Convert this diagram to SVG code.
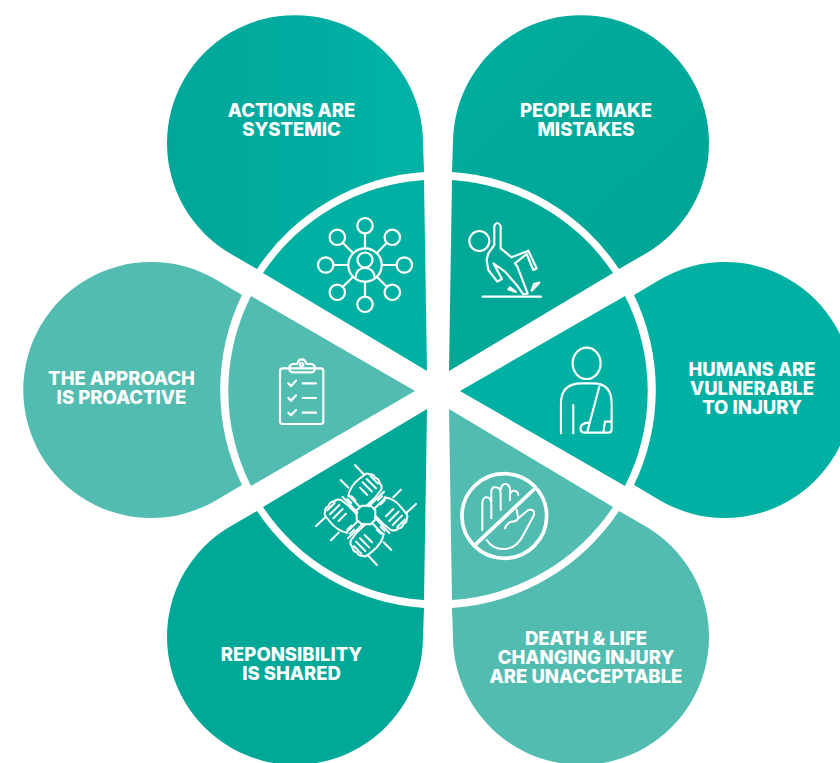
<svg xmlns="http://www.w3.org/2000/svg" xmlns:xlink="http://www.w3.org/1999/xlink" width="840" height="763" viewBox="0 0 840 763">
<style>
text{font-family:Inter,"Liberation Sans",sans-serif;font-weight:800;font-size:18.500px;fill:#fff;text-anchor:middle}
.i{fill:none;stroke:#fff;stroke-linecap:round;stroke-linejoin:round}
.a{fill:#00b0a3}.b{fill:#00a898}.c{fill:#52bcb1}
</style>
<defs>
<linearGradient id="tl" x1="0" y1="0" x2="1" y2="0"><stop offset="0" stop-color="#00a699"/><stop offset="1" stop-color="#00b3a6"/></linearGradient>
<linearGradient id="tr" x1="0" y1="0" x2="1" y2="1"><stop offset="0" stop-color="#00ad9f"/><stop offset="1" stop-color="#00a595"/></linearGradient>
<g id="hand">
<path d="M115 124Q118 95 150 70L160 62Q170 52 178 58Q190 56 195 68Q207 70 209 84Q218 94 213 105L195 128L172 150M98 126L142 172M115 120L150 156"/>
<path d="M158 82L186 110M170 72L198 100M182 64L204 86M150 98L172 120M135 30L163 60M92 75L115 98M112 132L124 144M124 124L136 136"/>
</g>
</defs>
<rect width="840" height="763" fill="#fff"/>
<g id="connectors"/>
<g id="node-actions">
<path fill="url(#tl)" d="M424 172L423 143A128 128 0 1 0 231 254L257 269A218 218 0 0 1 424 172Z"/>
<path class="a" d="M427 371L263 273A210 210 0 0 1 424 180Z"/>
<g class="i" stroke-width="2.200">
<circle cx="365" cy="265" r="16.700"/><circle cx="365" cy="260" r="7.500"/><path d="M355.500 278C356 271 360 268 365 268S374 271 375 278"/>
<circle cx="365" cy="225.700" r="7.700"/><circle cx="337.300" cy="237.300" r="7.700"/><circle cx="392.300" cy="237.300" r="7.700"/><circle cx="325.700" cy="265" r="7.700"/><circle cx="404.300" cy="265" r="7.700"/><circle cx="337.300" cy="292.300" r="7.700"/><circle cx="392.300" cy="292.300" r="7.700"/><circle cx="365" cy="304.300" r="7.700"/>
<path d="M365 233.500V248M342.800 242.800L353 253M386.800 242.800L377 253M333.500 265H348M396.500 265H382M342.800 286.800L353 277M386.800 286.800L377 277M365 296.500V282"/>
</g>
<text y="116.500"><tspan x="291.500">ACTIONS ARE</tspan><tspan x="291.500" dy="19">SYSTEMIC</tspan></text>
</g>
<g id="node-mistakes">
<path fill="url(#tr)" d="M452 172L453 143A128 128 0 1 1 645 254L619 269A218 218 0 0 0 452 172Z"/>
<path class="b" d="M449 371L613 273A210 210 0 0 0 452 180Z"/>
<g class="i" transform="translate(260 170) scale(.3333)" stroke-width="6.500">
<circle cx="658" cy="213" r="30"/>
<path d="M703 168V225L685 250L680 270L685 300L712 335L726 327L700 280L735 305L770 345L790 373L803 370L772 290L765 280L800 252L820 300L830 295L805 242L755 262L722 235V168Q712 150 703 168Z"/>
<path d="M668 380H843M745 358L768 366L750 352ZM815 362L838 338L822 342Z"/>
</g>
<text y="116.500"><tspan x="586">PEOPLE MAKE</tspan><tspan x="586" dy="19">MISTAKES</tspan></text>
</g>
<g id="node-humans">
<path class="a" d="M634 295L661 279A128 128 0 1 1 661 501L634 485A218 218 0 0 0 634 295Z"/>
<path class="a" d="M460 391L625 296A210 210 0 0 1 625 486Z"/>
<g class="i" transform="translate(260 340) scale(.3333)" stroke-width="6.500">
<ellipse cx="980" cy="70" rx="42" ry="47"/>
<path d="M903 280V190Q903 130 965 130H1000Q1055 130 1055 190V268Q1055 278 1045 278H972Q960 276 962 262Q965 250 985 248M1018 140L982 275M940 195V280M1035 245H1055M1035 245L1030 278"/>
</g>
<text y="375.500"><tspan x="752">HUMANS ARE</tspan><tspan x="752" dy="19">VULNERABLE</tspan><tspan x="752" dy="19">TO INJURY</tspan></text>
</g>
<g id="node-death">
<path class="c" d="M452 608L453 637A128 128 0 1 0 645 526L619 511A218 218 0 0 1 452 608Z"/>
<path class="c" d="M449 409L613 507A210 210 0 0 1 452 600Z"/>
<g class="i" transform="translate(260 340) scale(.3333)">
<circle cx="733" cy="528" r="127" stroke-width="11"/>
<path d="M820 450L650 610" stroke-width="11"/>
<path stroke-width="6" d="M667 570V490Q668 472 680 472Q692 472 694 490V535M694 485V455Q695 440 707 442Q720 442 722 458V510M722 450Q725 430 738 432Q750 435 750 450V480M750 460Q760 447 770 455Q775 458 775 465"/>
<path stroke-width="6" d="M680 600Q700 630 735 627Q770 625 790 585L822 525Q825 505 805 510L775 535L770 510M775 535Q770 545 755 545Q740 550 735 565"/>
</g>
<text y="644.500"><tspan x="586">DEATH &amp; LIFE</tspan><tspan x="586" dy="19">CHANGING INJURY</tspan><tspan x="586" dy="19">ARE UNACCEPTABLE</tspan></text>
</g>
<g id="node-shared">
<path class="b" d="M424 608L423 637A128 128 0 1 1 231 526L257 511A218 218 0 0 0 424 608Z"/>
<path class="b" d="M427 409L263 507A210 210 0 0 0 424 600Z"/>
<g class="i" transform="translate(310 455) scale(.3333)" stroke-width="6">
<use xlink:href="#hand" href="#hand"/>
<use xlink:href="#hand" href="#hand" transform="rotate(90 168 180)"/>
<use xlink:href="#hand" href="#hand" transform="rotate(180 168 180)"/>
<use xlink:href="#hand" href="#hand" transform="rotate(270 168 180)"/>
<path d="M155 152H182L196 166V194L182 208H155L140 194V166Z"/>
</g>
<text y="660.500"><tspan x="291.500">REPONSIBILITY</tspan><tspan x="291.500" dy="19">IS SHARED</tspan></text>
</g>
<g id="node-proactive">
<path class="c" d="M242 295L215 279A128 128 0 1 0 215 501L242 485A218 218 0 0 1 242 295Z"/>
<path class="c" d="M415 391L251 296A210 210 0 0 0 251 486Z"/>
<g class="i" transform="translate(260 340) scale(.3333)" stroke-width="6.500">
<rect x="60" y="85" width="130" height="167" rx="8"/>
<path d="M112 72H98Q88 74 88 85Q88 97 98 97H155Q165 97 165 85Q165 74 155 72H140Q135 58 125 58Q115 58 112 72Z"/>
<circle cx="125" cy="74" r="5"/>
<path d="M85 130L93 138L108 122M128 130H168M85 174L93 182L108 166M128 174H168M85 218L93 226L108 210M128 218H168"/>
</g>
<text y="384.500"><tspan x="121.500">THE APPROACH</tspan><tspan x="121.500" dy="19">IS PROACTIVE</tspan></text>
</g>
</svg>
